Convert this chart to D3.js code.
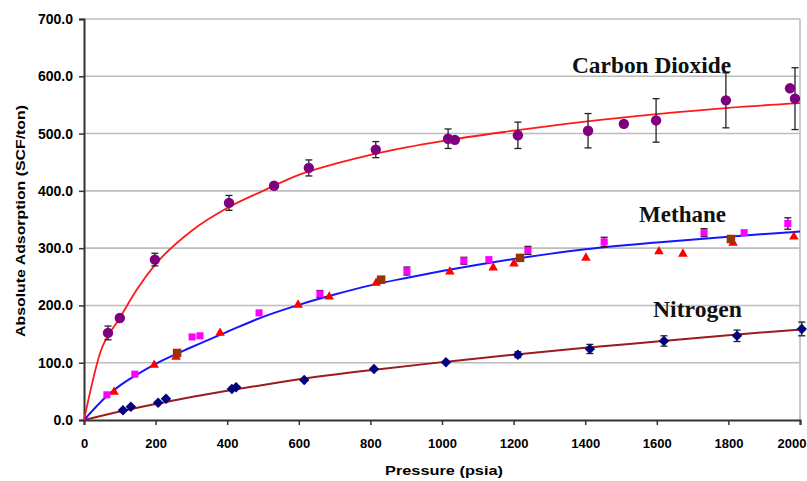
<!DOCTYPE html>
<html>
<head>
<meta charset="utf-8">
<script src="https://cdn.jsdelivr.net/npm/d3@7/dist/d3.min.js"></script>
<style>
  html, body { margin: 0; padding: 0; background: #fff; }
  svg { display: block; }
</style>
</head>
<body>
<svg id="chart" width="807" height="481"></svg>
<script>
// ---------- DATA ----------
const yTicks = [0, 100, 200, 300, 400, 500, 600, 700];
const xTicks = [0, 200, 400, 600, 800, 1000, 1200, 1400, 1600, 1800, 2000];

// Carbon dioxide measured points (purple circles) with error bars
const co2Pressure = [67, 100, 198, 405, 531, 628, 815, 1017, 1036, 1212, 1408, 1508, 1598, 1793, 1972, 1986];
const co2Values   = [152, 178, 280, 379, 409, 440, 472, 491, 489, 497, 505, 517, 523, 558, 579, 561];
const co2Errors   = [12, 0, 11, 13, 0, 14, 14, 17, 0, 23, 30, 0, 38, 48, 0, 54];

// Carbon dioxide fitted curve (red)
const co2FitP = [0, 45, 100, 150, 200, 300, 400, 500, 600, 700, 800, 900, 1000, 1200, 1400, 1600, 1800, 2000];
const co2FitV = [0, 117, 178, 230, 272, 330, 370, 400, 428, 447, 463, 476, 487, 505, 521, 534, 545, 553];

// Methane measured points: magenta squares (with small error bars)
const ch4aPressure = [64, 142, 302, 324, 489, 659, 902, 1061, 1131, 1240, 1453, 1732, 1844, 1966];
const ch4aValues   = [44, 80, 145, 147, 187, 220, 260, 278, 280, 296, 311, 327, 327, 343];
const ch4aErrors   = [0, 0, 0, 0, 0, 6, 7, 6, 0, 7, 8, 7, 0, 10];
// Methane measured points: red triangles
const ch4bPressure = [84, 196, 257, 380, 598, 685, 816, 1022, 1143, 1201, 1402, 1606, 1673, 1813, 1983];
const ch4bValues   = [49, 96, 110, 152, 201, 215, 239, 259, 266, 273, 283, 294, 290, 309, 320];
// Methane measured points: brown squares
const ch4cPressure = [260, 830, 1218, 1807];
const ch4cValues   = [117, 245, 283, 316];

// Methane fitted curve (blue)
const ch4FitP = [0, 64, 100, 150, 200, 300, 400, 500, 600, 700, 800, 900, 1000, 1100, 1200, 1300, 1400, 1600, 1800, 2000];
const ch4FitV = [0, 42, 60, 80, 98, 127, 154, 180, 201, 219, 235, 248, 260, 271, 281, 290, 298, 310, 320, 329];

// Nitrogen measured points (navy diamonds)
const n2Pressure = [109, 131, 207, 229, 413, 425, 615, 810, 1011, 1212, 1413, 1620, 1824, 2005];
const n2Values   = [17, 23, 30, 37, 54, 57, 70, 89, 101, 114, 124, 138, 147, 159];
const n2Errors   = [0, 0, 0, 0, 0, 0, 0, 0, 0, 5, 8, 9, 10, 12];

// Nitrogen fitted curve (brown)
const n2FitP = [0, 100, 200, 300, 400, 547, 600, 800, 1000, 1200, 1400, 1600, 1800, 2000];
const n2FitV = [0, 15, 28, 40, 51, 66, 71, 87, 101, 114, 126, 137, 148, 158];

const seriesLabels = ["Carbon Dioxide", "Methane", "Nitrogen"];
const xTitle = "Pressure (psia)";
const yTitle = "Absolute Adsorption (SCF/ton)";

// ---------- CHART ----------
const svg = d3.select("#chart");
const x = d3.scaleLinear().domain([0, 2000]).range([84, 800]);
const y = d3.scaleLinear().domain([0, 700]).range([420, 19]);

const zip = (a, b, c) => a.map((v, i) => ({ p: v, v: b[i], e: c ? c[i] : 0 }));

// gridlines
svg.append("g").selectAll("line").data(yTicks.filter(d => d > 0)).join("line")
  .attr("x1", x(0)).attr("x2", x(2000))
  .attr("y1", d => y(d)).attr("y2", d => y(d))
  .attr("stroke", "#bdbdbd").attr("stroke-width", 1.6);
// right border
svg.append("line").attr("x1", x(2000)).attr("x2", x(2000)).attr("y1", y(700)).attr("y2", y(0))
  .attr("stroke", "#bdbdbd").attr("stroke-width", 1.6);

// axes
const yAxis = svg.append("g").attr("transform", `translate(${x(0)},0)`)
  .call(d3.axisLeft(y).tickValues(yTicks).tickSize(5).tickPadding(5).tickFormat(d => d.toFixed(1)));
const xAxis = svg.append("g").attr("transform", `translate(0,${y(0)})`)
  .call(d3.axisBottom(x).tickValues(xTicks).tickSize(5).tickPadding(14).tickFormat(d3.format("d")));
[yAxis, xAxis].forEach(g => {
  g.select(".domain").attr("stroke", "#333").attr("stroke-width", 2);
  g.selectAll(".tick line").attr("stroke", "#333").attr("stroke-width", 1.5);
  g.selectAll("text").attr("fill", "#000").attr("font-family", "'Liberation Sans', Arial, sans-serif")
    .attr("font-weight", "bold");
});
yAxis.selectAll("text").attr("font-size", 14).attr("dx", -1);
xAxis.selectAll("text").attr("font-size", 13);
// keep the last x label inside the picture
xAxis.selectAll(".tick").filter(d => d === 2000).select("text")
  .attr("text-anchor", "end").attr("x", 806 - x(2000));

// axis titles
svg.append("text").text(xTitle)
  .attr("x", 444).attr("y", 475).attr("text-anchor", "middle")
  .attr("font-family", "'Liberation Sans', Arial, sans-serif").attr("font-weight", "bold").attr("font-size", 13)
  .attr("textLength", 118).attr("lengthAdjust", "spacingAndGlyphs");
svg.append("text").text(yTitle)
  .attr("transform", "translate(25,221) rotate(-90)").attr("text-anchor", "middle")
  .attr("font-family", "'Liberation Sans', Arial, sans-serif").attr("font-weight", "bold").attr("font-size", 13)
  .attr("textLength", 232).attr("lengthAdjust", "spacingAndGlyphs");

// fitted curves
const line = d3.line().x(d => x(d.p)).y(d => y(d.v)).curve(d3.curveMonotoneX);
svg.append("path").datum(zip(n2FitP, n2FitV)).attr("d", line)
  .attr("fill", "none").attr("stroke", "#9b1c1c").attr("stroke-width", 2);
svg.append("path").datum(zip(ch4FitP, ch4FitV)).attr("d", line)
  .attr("fill", "none").attr("stroke", "#1515ff").attr("stroke-width", 2);
svg.append("path").datum(zip(co2FitP, co2FitV)).attr("d", line)
  .attr("fill", "none").attr("stroke", "#ff1a1a").attr("stroke-width", 1.8);

// error bars
function errorBars(data) {
  const g = svg.append("g").attr("stroke", "#222").attr("stroke-width", 1.3);
  const d2 = data.filter(d => d.e > 0);
  g.selectAll(".v").data(d2).join("line")
    .attr("x1", d => x(d.p)).attr("x2", d => x(d.p))
    .attr("y1", d => y(d.v + d.e)).attr("y2", d => y(d.v - d.e));
  g.selectAll(".t").data(d2).join("line")
    .attr("x1", d => x(d.p) - 3.5).attr("x2", d => x(d.p) + 3.5)
    .attr("y1", d => y(d.v + d.e)).attr("y2", d => y(d.v + d.e));
  g.selectAll(".b").data(d2).join("line")
    .attr("x1", d => x(d.p) - 3.5).attr("x2", d => x(d.p) + 3.5)
    .attr("y1", d => y(d.v - d.e)).attr("y2", d => y(d.v - d.e));
}
const co2Data = zip(co2Pressure, co2Values, co2Errors);
const ch4aData = zip(ch4aPressure, ch4aValues, ch4aErrors);
const n2Data = zip(n2Pressure, n2Values, n2Errors);
errorBars(co2Data);
errorBars(ch4aData);
errorBars(n2Data);

// markers
const sym = (type, size) => d3.symbol().type(type).size(size)();
function markers(data, type, size, color) {
  svg.append("g").selectAll("path").data(data).join("path")
    .attr("d", sym(type, size))
    .attr("transform", d => `translate(${x(d.p)},${y(d.v)})`)
    .attr("fill", color);
}
markers(zip(ch4bPressure, ch4bValues), d3.symbolTriangle, 40, "#ff0000");
markers(ch4aData, d3.symbolSquare, 50, "#ff00ff");
markers(zip(ch4cPressure, ch4cValues), d3.symbolSquare, 72, "#993300");
markers(n2Data, d3.symbolDiamond2, 70, "#000080");
markers(co2Data, d3.symbolCircle, 85, "#7f007f");

// series labels
const labelPos = [[572, 73, 159], [639, 222, 87], [653, 317, 89]];
svg.append("g").selectAll("text").data(seriesLabels).join("text")
  .text(d => d)
  .attr("x", (d, i) => labelPos[i][0]).attr("y", (d, i) => labelPos[i][1])
  .attr("textLength", (d, i) => labelPos[i][2]).attr("lengthAdjust", "spacingAndGlyphs")
  .attr("font-family", "'Liberation Serif', 'Times New Roman', serif")
  .attr("font-weight", "bold").attr("font-size", 23).attr("fill", "#111");
</script>
</body>
</html>
